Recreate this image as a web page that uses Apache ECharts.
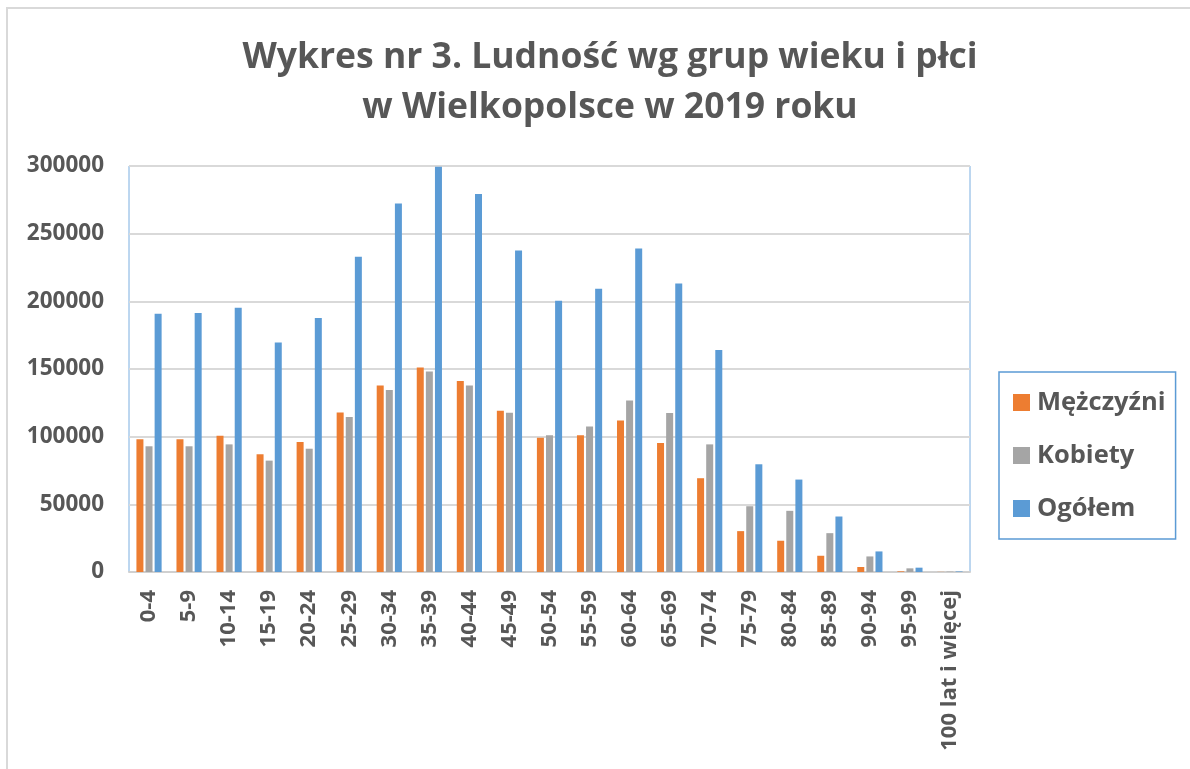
<!DOCTYPE html>
<html>
<head>
<meta charset="utf-8">
<script src="https://cdn.jsdelivr.net/npm/echarts@6/dist/echarts.min.js"></script>
<style>
  html, body { margin: 0; padding: 0; background: #fff; }
  #frame { position: absolute; left: 6px; top: 7px; width: 1300px; height: 900px;
           border-top: 2px solid #d9d9d9; border-left: 2px solid #d9d9d9; }
  #chart { position: absolute; left: 0; top: 0; width: 1190px; height: 769px; }
</style>
</head>
<body>
<div id="frame"></div>
<div id="chart"></div>
<script>
const categories = ['0-4', '5-9', '10-14', '15-19', '20-24', '25-29', '30-34', '35-39', '40-44', '45-49',
  '50-54', '55-59', '60-64', '65-69', '70-74', '75-79', '80-84', '85-89', '90-94', '95-99', '100 lat i więcej']

const mezczyzni = [98000, 98000, 100700, 87000, 96000, 117900, 137800, 151100, 141200, 119100,
  99200, 101000, 112000, 95300, 69300, 30200, 23100, 12000, 3700, 500, 100]
const kobiety = [92900, 92900, 94300, 82300, 91100, 114500, 134400, 148100, 137800, 117600,
  101000, 107600, 126800, 117400, 94300, 48600, 45200, 28700, 11500, 2700, 300]
const ogolem = [190900, 191300, 195300, 169500, 187600, 232900, 272200, 299500, 279300, 237500,
  200400, 209300, 239000, 213200, 164100, 79600, 68300, 41000, 15200, 3200, 400]

const yTicks = [0, 50000, 100000, 150000, 200000, 250000, 300000]

const FONT = '"Open Sans", "Noto Sans", sans-serif'
const TEXT = '#575757'

const chart = echarts.init(document.getElementById('chart'))

const barSeries = (name, data, color) => ({
  name: name,
  type: 'bar',
  data: data,
  barWidth: 7,
  barGap: '30%',
  itemStyle: { color: color }
})

chart.setOption({
  animation: false,
  textStyle: { fontFamily: FONT },
  title: {
    text: 'Wykres nr 3. Ludność wg grup wieku i płci\nw Wielkopolsce w 2019 roku',
    left: 605,
    top: 28,
    textAlign: 'center',
    textStyle: { fontFamily: FONT, fontSize: 35.5, fontWeight: 'bold', color: TEXT, lineHeight: 50 }
  },
  legend: {
    orient: 'vertical',
    left: 999,
    top: 372,
    padding: [14, 10, 14, 14],
    itemGap: 20,
    itemWidth: 17,
    itemHeight: 17,
    borderColor: '#5b9bd5',
    borderWidth: 1.5,
    icon: 'rect',
    textStyle: { fontFamily: FONT, fontSize: 25.5, fontWeight: 'bold', color: TEXT, padding: [0, 0, 0, 2], lineHeight: 33 },
    data: ['Mężczyźni', 'Kobiety', 'Ogółem']
  },
  grid: {
    left: 129,
    right: 220,
    top: 166,
    bottom: 197,
    show: true,
    borderColor: '#7aaee0',
    borderWidth: 1,
    backgroundColor: '#fff'
  },
  xAxis: {
    type: 'category',
    data: categories,
    axisLine: { lineStyle: { color: '#d0d0d0', width: 2 } },
    axisTick: { show: false },
    axisLabel: {
      rotate: 90,
      interval: 0,
      margin: 18,
      fontFamily: FONT,
      fontSize: 22,
      fontWeight: 'bold',
      color: TEXT
    }
  },
  yAxis: {
    type: 'value',
    min: yTicks[0],
    max: yTicks[yTicks.length - 1],
    interval: yTicks[1] - yTicks[0],
    axisLine: { show: false },
    axisTick: { show: false },
    splitLine: { lineStyle: { color: '#d9d9d9', width: 2 } },
    axisLabel: {
      margin: 25,
      fontFamily: FONT,
      fontSize: 22.5,
      fontWeight: 'bold',
      color: TEXT,
      formatter: (v) => String(v)
    }
  },
  series: [
    barSeries('Mężczyźni', mezczyzni, '#ed7d31'),
    barSeries('Kobiety', kobiety, '#a5a5a5'),
    barSeries('Ogółem', ogolem, '#5b9bd5')
  ]
})
</script>
</body>
</html>
